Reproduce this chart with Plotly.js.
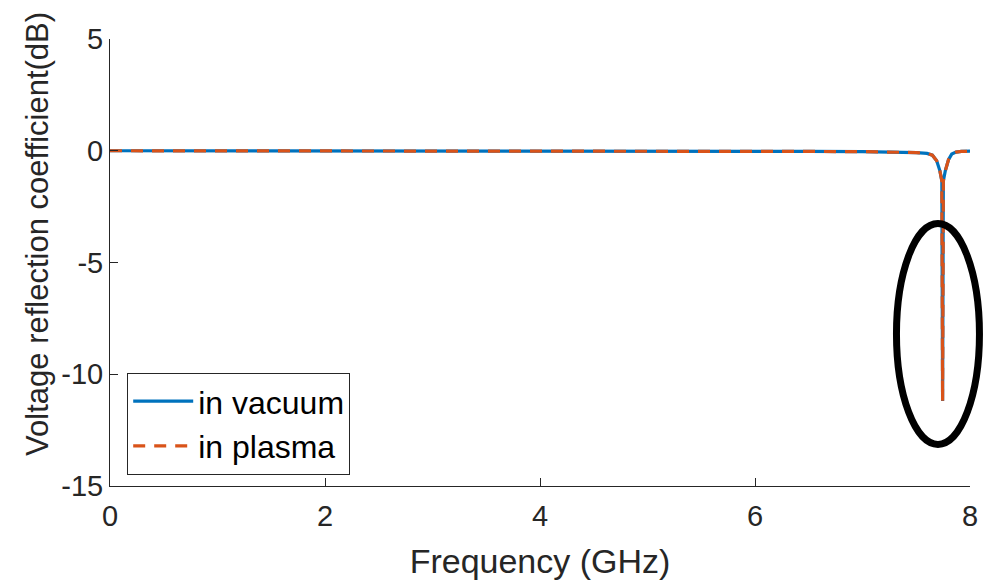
<!DOCTYPE html>
<html>
<head>
<meta charset="utf-8">
<script src="https://cdn.plot.ly/plotly-3.0.1.min.js"></script>
<style>html,body{margin:0;padding:0;background:#fff;}#chart{width:984px;height:585px;}</style>
</head>
<body>
<div id="chart"></div>
<script>
// Frequency samples (GHz)
const freq = [0, 0.5, 1, 1.5, 2, 2.5, 3, 3.5, 4, 4.5, 5, 5.5, 6, 6.5, 7, 7.2, 7.4, 7.5, 7.6, 7.65, 7.69, 7.72, 7.738, 7.745, 7.752, 7.77, 7.8, 7.83, 7.87, 7.92, 8.0];
// Voltage reflection coefficient (dB)
const vacuum = [0, 0, 0, 0, 0, 0, 0, -0.01, -0.01, -0.01, -0.02, -0.02, -0.03, -0.03, -0.04, -0.05, -0.06, -0.08, -0.12, -0.2, -0.45, -0.9, -1.35, -11.2, -1.35, -0.9, -0.4, -0.15, -0.06, -0.03, -0.02];
const plasma = [0, 0, 0, 0, 0, 0, 0, -0.01, -0.01, -0.01, -0.02, -0.02, -0.03, -0.03, -0.04, -0.05, -0.06, -0.08, -0.12, -0.2, -0.45, -0.9, -1.35, -11.2, -1.35, -0.9, -0.4, -0.15, -0.06, -0.03, -0.02];
const seriesNames = ["in vacuum", "in plasma"];
const xTicks = [0, 2, 4, 6, 8];
const yTicks = [-15, -10, -5, 0, 5];

const FONT = "Liberation Sans, Arial, Helvetica, sans-serif";
const INK = "#262626";

const traces = [
  {x: freq, y: vacuum, name: seriesNames[0], mode: "lines", type: "scatter",
   line: {color: "#0072BD", width: 3.2}},
  {x: freq, y: plasma, name: seriesNames[1], mode: "lines", type: "scatter",
   line: {color: "#D95319", width: 3.2, dash: "12px,9px"}}
];

const layout = {
  width: 984, height: 585,
  margin: {l: 110, r: 14, t: 39, b: 99},
  paper_bgcolor: "#fff", plot_bgcolor: "#fff",
  font: {family: FONT, color: INK, size: 29},
  showlegend: true,
  legend: {
    x: 0.02, y: 0.253, xanchor: "left", yanchor: "top",
    bordercolor: INK, borderwidth: 1, bgcolor: "#fff",
    font: {family: FONT, size: 32, color: "#000"},
    itemwidth: 60, tracegroupgap: 0
  },
  xaxis: {
    range: [0, 8], tickvals: xTicks, ticktext: xTicks.map(String),
    showline: true, linecolor: INK, linewidth: 1,
    ticks: "inside", ticklen: 8, tickcolor: INK, tickwidth: 1,
    showgrid: false, zeroline: false, mirror: false,
    tickfont: {size: 29, color: INK}, ticklabelstandoff: 4,
    title: {text: "Frequency (GHz)", font: {size: 34, color: INK}, standoff: 18}
  },
  yaxis: {
    range: [-15, 5], tickvals: yTicks, ticktext: yTicks.map(String),
    showline: true, linecolor: INK, linewidth: 1,
    ticks: "inside", ticklen: 8, tickcolor: INK, tickwidth: 1,
    showgrid: false, zeroline: false, mirror: false,
    tickfont: {size: 29, color: INK}
  },
  annotations: [{
    text: "Voltage reflection coefficient(dB)", textangle: -90,
    xref: "paper", yref: "paper", x: -0.0837, y: 0.564,
    xanchor: "center", yanchor: "middle", showarrow: false,
    font: {family: FONT, size: 31, color: INK}
  }],
  shapes: [{
    type: "circle", xref: "paper", yref: "paper",
    x0: 0.9145, x1: 1.011, y0: 0.093, y1: 0.587,
    line: {color: "#000", width: 7}
  }]
};

Plotly.newPlot("chart", traces, layout, {displayModeBar: false, staticPlot: true});
</script>
</body>
</html>
